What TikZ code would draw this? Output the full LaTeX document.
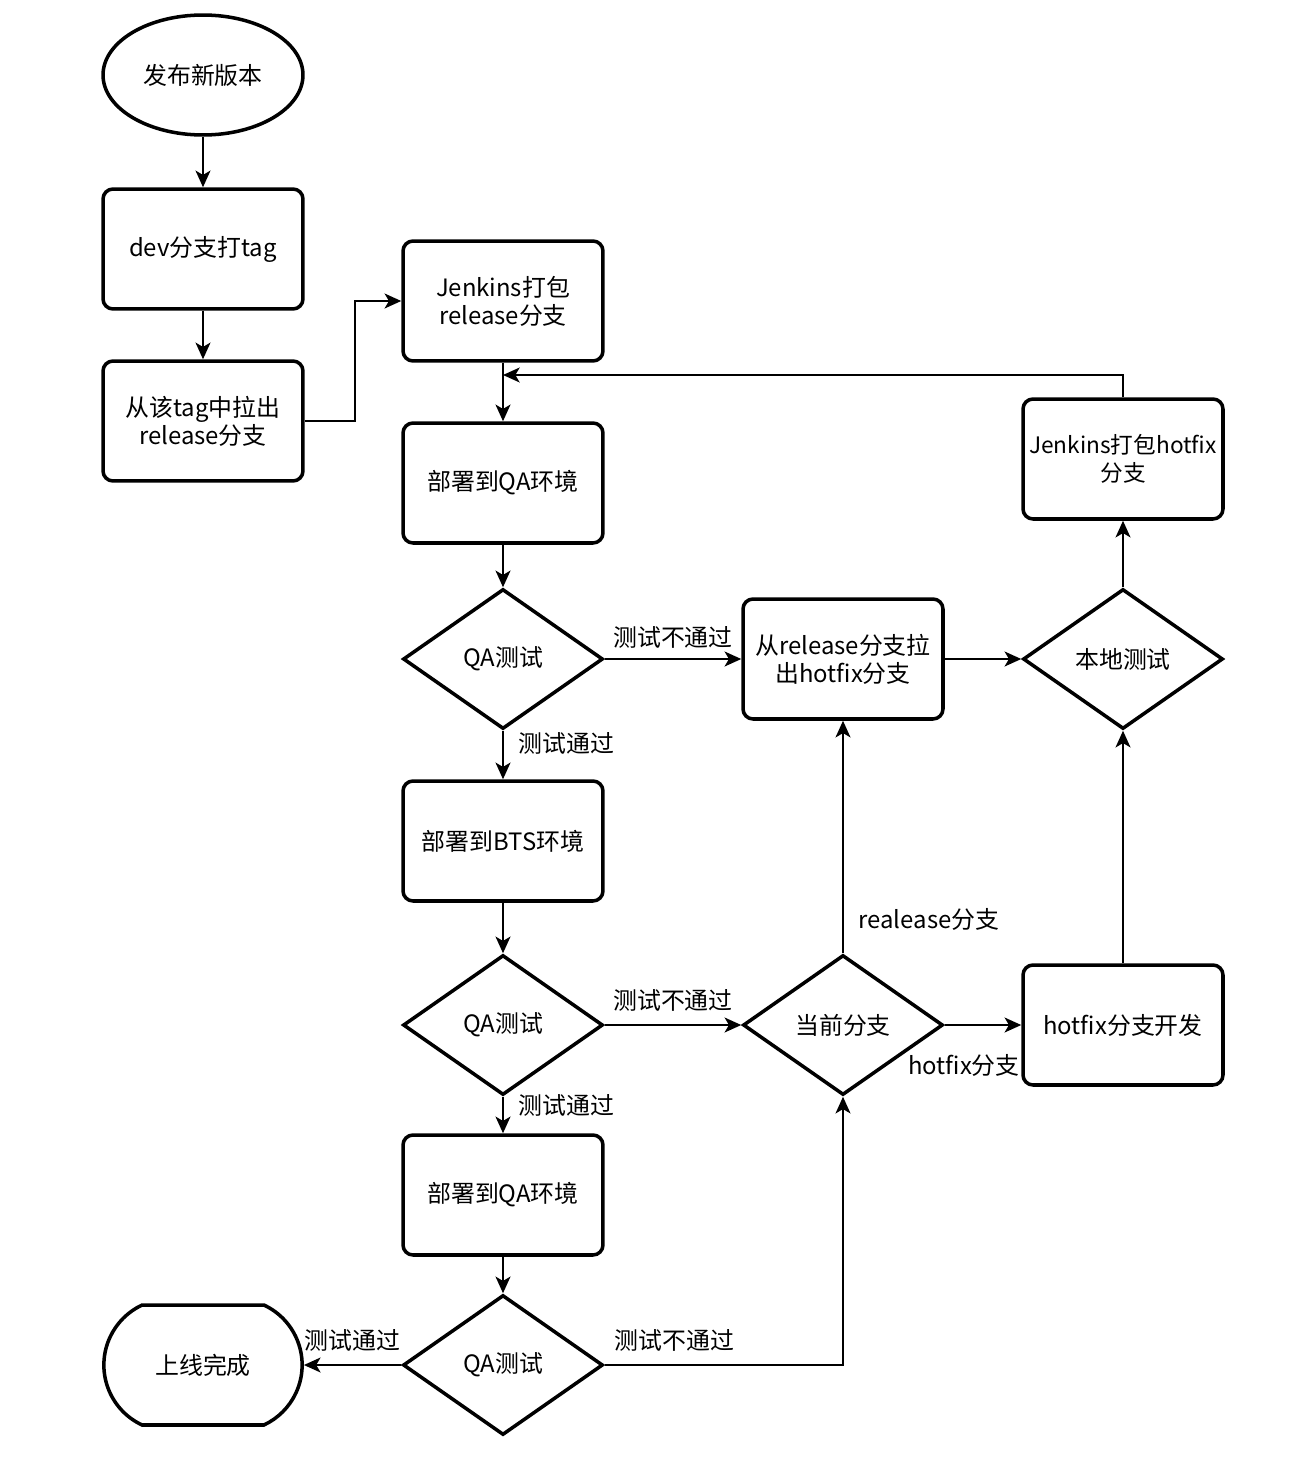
\documentclass[tikz,border=0pt]{standalone}
\usepackage{fontspec}
\setmainfont{Noto Sans CJK SC}
\usetikzlibrary{shapes.geometric,shapes.misc,arrows.meta}

\tikzset{
  box/.style={draw, line width=2pt, rounded corners=0.2cm, minimum width=4cm, minimum height=2.4cm, inner xsep=0pt, inner ysep=2pt, align=center},
  decision/.style={draw, diamond, line width=2pt, minimum width=4cm, minimum height=2.8cm, inner sep=0pt, align=center},
  startnode/.style={draw, ellipse, line width=2pt, minimum width=4cm, minimum height=2.4cm},
  endnode/.style={draw, rounded rectangle, rounded rectangle arc length=130, line width=2pt, minimum width=4.2cm, minimum height=2.4cm},
  arr/.style={-{Stealth[length=9.5pt,width=8.5pt,inset=2.5pt]}, line width=1.1pt}
}

\begin{document}
\begin{tikzpicture}[x=0.02cm, y=-0.02cm, font=\fontsize{13.6pt}{16pt}\selectfont]
    \useasboundingbox (0,0) rectangle (1304,1460);

    % Main flow
    \node[startnode] (start) at (203,75) {发布新版本};
    \node[box] (tag) at (203,249) {dev分支打tag};
    \node[box] (pull) at (203,421) {从该tag中拉出\\release分支};
    \node[box] (jrel) at (503,301) {Jenkins打包\\release分支};
    \node[box] (qaenv) at (503,483) {部署到QA环境};
    \node[decision] (qa1) at (503,659) {QA测试};
    \node[box] (bts) at (503,841) {部署到BTS环境};
    \node[decision] (qa2) at (503,1025) {QA测试};
    \node[box] (qaenv2) at (503,1195) {部署到QA环境};
    \node[decision] (qa3) at (503,1365) {QA测试};
    \node[endnode] (done) at (203,1365) {上线完成};

    % Hotfix loop
    \node[box] (pullfix) at (843,659) {从release分支拉\\出hotfix分支};
    \node[decision] (local) at (1123,659) {本地测试};
    \node[box, font=\fontsize{12.9pt}{16pt}\selectfont] (jfix) at (1123,459) {Jenkins打包hotfix\\分支};
    \node[decision] (branch) at (843,1025) {当前分支};
    \node[box] (dev) at (1123,1025) {hotfix分支开发};
    \coordinate (merge) at (503,375);

    % Connectors of the main flow
    \draw[arr] (start) -- (tag);
    \draw[arr] (tag) -- (pull);
    \draw[arr] (pull.east) -- ++(50,0) |- (jrel.west);
    \draw[arr] (jrel) -- (qaenv);
    \draw[arr] (qaenv) -- (qa1);
    \draw[arr] (qa1) -- node[above=2pt] {测试不通过} (pullfix);
    \draw[arr] (qa1) -- node[right=5pt, pos=0.26] {测试通过} (bts);
    \draw[arr] (bts) -- (qa2);
    \draw[arr] (qa2) -- node[above=4pt] {测试不通过} (branch);
    \draw[arr] (qa2) -- node[right=5pt, pos=0.25] {测试通过} (qaenv2);
    \draw[arr] (qaenv2) -- (qa3);
    \draw[arr] (qa3) -- node[above=4pt] {测试通过} (done);
    \draw[arr] (qa3) -| node[pos=0.146, above=4pt] {测试不通过} (branch);

    % Connectors of the hotfix loop
    \draw[arr] (branch) -- node[right=5pt, pos=0.144] {realease分支} (pullfix);
    \draw[arr] (branch) -- node[below=13pt, pos=0.25] {hotfix分支} (dev);
    \draw[arr] (pullfix) -- (local);
    \draw[arr] (dev) -- (local);
    \draw[arr] (local) -- (jfix);
    \draw[arr] (jfix.north) |- (merge);

\end{tikzpicture}
\end{document}
